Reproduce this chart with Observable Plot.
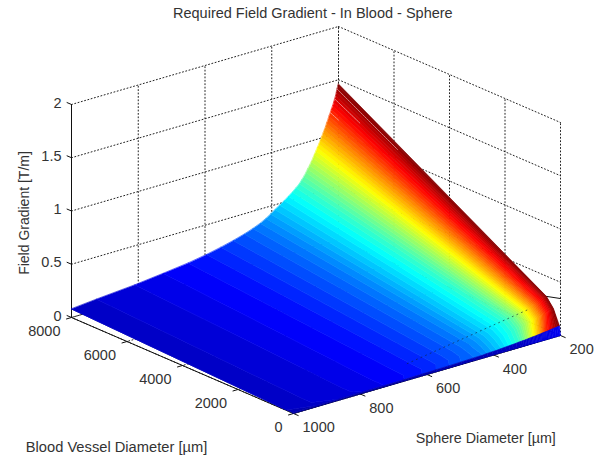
<!DOCTYPE html>
<html><head><meta charset="utf-8">
<script src="https://cdn.jsdelivr.net/npm/d3@7"></script>
<script src="https://cdn.jsdelivr.net/npm/@observablehq/plot@0.6"></script>
<style>
html,body{margin:0;padding:0;background:#fff}
figure{margin:0!important;padding:0}
h2{font:400 14.5px "Liberation Sans",Arial,sans-serif;color:#333;margin:0;height:20px;line-height:26px;padding-left:173px;white-space:nowrap}
svg{display:block}
</style></head><body>
<script>
const titleText = "Required Field Gradient - In Blood - Sphere";
const sphereTicks = [200,400,600,800,1000];
const vesselTicks = [0,2000,4000,6000,8000];
const gradientTicks = [0,0.5,1,1.5,2];
const zLabels = ["0","0.5","1","1.5","2"];
// isolines of the surface colour
const levels = [.03,.055,.07,.09,.11,.13,.15,.17,.19,.21,.23,.25,.27,.29,.31,.33,.35,.37,.39,.41,.43,.45,.47,.49,.51,.53,.55,.57,.59,.61,.63,.65,.67,.69,.71,.73,.75,.77,.79,.81,.83,.85,.87,.89,.91,.93,.95,.97,.99,1];
const sBack  = [1000,1000,925,810,725,650,595,552,515,482,456,434,417,403,390,376,362,350,338,327,317,310,303,297,292,286,281,276,272,267,263,258,254,250,246,242,238,235,231,228,224,221,217,214,211,208,206,204,201,200];
const zBack  = [.08,.08,.102,.131,.161,.19,.219,.248,.277,.307,.336,.365,.394,.423,.453,.482,.511,.54,.569,.599,.628,.657,.686,.715,.745,.774,.803,.832,.861,.891,.92,.949,.978,1.007,1.037,1.066,1.095,1.124,1.153,1.183,1.212,1.241,1.27,1.299,1.329,1.358,1.387,1.416,1.445,1.46];
const sFront = [1000,925,860,790,725,665,612,570,530,495,455,430,417,402,388,374,362,352,341,330,320,314,309,304,300,295,291,287,283,279,275,271,267,263,259,256,252,249,246,243,240,236,232,228,224,219,214,208,203,200];
const zKnee  = [.006,.006,.006,.007,.009,.014,.021,.03,.04,.052,.066,.08,.095,.107,.12,.13,.145,.155,.168,.178,.188,.195,.202,.208,.213,.219,.224,.229,.233,.237,.24,.244,.248,.25,.254,.258,.262,.265,.27,.273,.278,.282,.287,.292,.296,.30,.303,.306,.31,.31];
const zMid   = [.005,.005,.005,.005,.007,.01,.015,.02,.027,.035,.045,.055,.066,.075,.084,.092,.102,.11,.119,.127,.134,.14,.145,.15,.154,.158,.162,.165,.168,.171,.174,.177,.18,.182,.185,.187,.19,.192,.195,.198,.2,.203,.206,.21,.213,.216,.218,.22,.224,.225];
const zFront = [.004,.005,.005,.006,.007,.008,.011,.013,.015,.018,.021,.023,.026,.028,.03,.033,.036,.038,.04,.043,.046,.047,.048,.049,.05,.052,.053,.055,.056,.057,.058,.059,.06,.062,.063,.064,.066,.067,.068,.069,.07,.072,.073,.075,.077,.079,.081,.083,.085,.085];
const rowVessel = [8000,507,256,36];
const crackLevels = [.97,.91,.83];
const crackReach = [.29,.12,.04];

// orthographic view of the box
const project = (s,v,z) => {
  const u=(s-200)/800, w=v/8000, h=z/2;
  return {X:-267*u-222*w, Y:78*u-96*w-213*h};
};
const P = (s,v,z,extra={}) => ({...project(s,v,z),...extra});

// surface
const bands=[];
levels.slice(0,-1).forEach((c,i)=>{
  const j=i+1, c2=(c+levels[j])/2;
  [P(sBack[i],rowVessel[0],zBack[i]),P(sBack[i],rowVessel[1],zKnee[i]),P(sBack[i],rowVessel[2],zMid[i]),P(sFront[i],rowVessel[3],zFront[i]),
   P(sFront[j],rowVessel[3],zFront[j]),P(sBack[j],rowVessel[2],zMid[j]),P(sBack[j],rowVessel[1],zKnee[j]),P(sBack[j],rowVessel[0],zBack[j])]
   .forEach(p=>bands.push({...p,band:i,c:c2}));
  // low strip along the front edge
  [P(sFront[i],rowVessel[3],zFront[i]),P(sFront[j],rowVessel[3],zFront[j]),P(sFront[j],0,0),P(sFront[i],0,0)]
   .forEach(p=>bands.push({...p,band:"strip"+i,c:.02+.09*c2}));
});

// dotted grid on the walls and floor
const grid=[];
const seg=(id,a,b)=>{grid.push({...P(...a),id},{...P(...b),id});};
sphereTicks.forEach(s=>{seg("ws"+s,[s,8000,0],[s,8000,2]);seg("fs"+s,[s,0,0],[s,8000,0]);});
vesselTicks.forEach(v=>{seg("wv"+v,[200,v,0],[200,v,2]);seg("fv"+v,[200,v,0],[1000,v,0]);});
gradientTicks.forEach(z=>{seg("lz"+z,[1000,8000,z],[200,8000,z]);seg("rz"+z,[200,8000,z],[200,0,z]);});

// solid axes and tick marks
const axes=[];
const sol=(id,a,b)=>{axes.push({...P(...a),id},{...P(...b),id});};
sol("z",[1000,8000,0],[1000,8000,2]);
sol("v",[1000,8000,0],[1000,0,0]);
sol("s",[1000,0,0],[200,0,0]);
const edgeLine=[[200,507,.31],[200,0,.347]];
sol("e",...edgeLine);
gradientTicks.forEach(z=>sol("tz"+z,[1000,8000,z],[1000,8160,z]));
sphereTicks.forEach(s=>sol("ts"+s,[s,0,0],[s,-170,0]));
vesselTicks.forEach(v=>sol("tv"+v,[1000,v,0],[1015,v,0]));

// thin light creases near the peak and the faint dotted trace on the surface
const creases=[];
crackLevels.forEach((c,k)=>{
  const i=levels.indexOf(c), t=crackReach[k];
  creases.push({...P(sBack[i],8000,zBack[i]),id:k});
  creases.push({...P(sBack[i],8000-(8000-507)*t,zBack[i]+(zKnee[i]-zBack[i])*t),id:k});
});
const trace=[P(590,830,0),P(230,720,.2)];

const font={fontFamily:"Liberation Sans, Arial, sans-serif",fill:"#333"};
const chart=Plot.plot({
  title:titleText,width:603,height:442,margin:0,
  x:{domain:[-489,0],range:[71,560],axis:null},
  y:{domain:[-309,78],range:[6,393],axis:null},
  color:{type:"linear",domain:[0,.125,.375,.625,.875,1],range:["#00008f","#0000ff","#00ffff","#ffff00","#ff0000","#800000"]},
  marks:[
    Plot.line(grid,{x:"X",y:"Y",z:"id",stroke:"#222",strokeWidth:1,strokeDasharray:"1 2.4"}),
    Plot.line(axes,{x:"X",y:"Y",z:"id",stroke:"#111",strokeWidth:1}),
    Plot.line(bands,{x:"X",y:"Y",z:"band",fill:"c",stroke:"c",strokeWidth:.6,curve:"linear-closed"}),
    Plot.line(creases,{x:"X",y:"Y",z:"id",stroke:"#fff",strokeWidth:.8,strokeOpacity:.6,strokeDasharray:"2 1"}),
    Plot.line(trace,{x:"X",y:"Y",stroke:"#123",strokeWidth:1,strokeOpacity:.6,strokeDasharray:"1 4"}),
    Plot.text(gradientTicks,{x:z=>project(1000,8000,z).X,y:z=>project(1000,8000,z).Y,text:(z,i)=>zLabels[i],textAnchor:"end",dx:-10,dy:-1.5,fontSize:14.5,...font}),
    Plot.text(vesselTicks,{x:v=>project(1000,v,0).X,y:v=>project(1000,v,0).Y,text:v=>String(v),textAnchor:"end",dx:-11,dy:14,fontSize:14.5,...font}),
    Plot.text(sphereTicks,{x:s=>project(s,0,0).X,y:s=>project(s,0,0).Y,text:s=>String(s),textAnchor:"start",dx:9,dy:14,fontSize:14.5,...font}),
    Plot.text([project(1000,4000,0)],{x:"X",y:"Y",text:()=>"Blood Vessel Diameter [µm]",dx:-66,dy:82,fontSize:14.7,...font}),
    Plot.text([project(400,0,0)],{x:"X",y:"Y",text:()=>"Sphere Diameter [µm]",dx:-8,dy:83,fontSize:14.3,...font}),
    Plot.text([project(1000,8000,1)],{x:"X",y:"Y",text:()=>"Field Gradient [T/m]",rotate:-90,dx:-47,dy:2,fontSize:14,...font})
  ]
});
document.body.appendChild(chart);
</script></body></html>
